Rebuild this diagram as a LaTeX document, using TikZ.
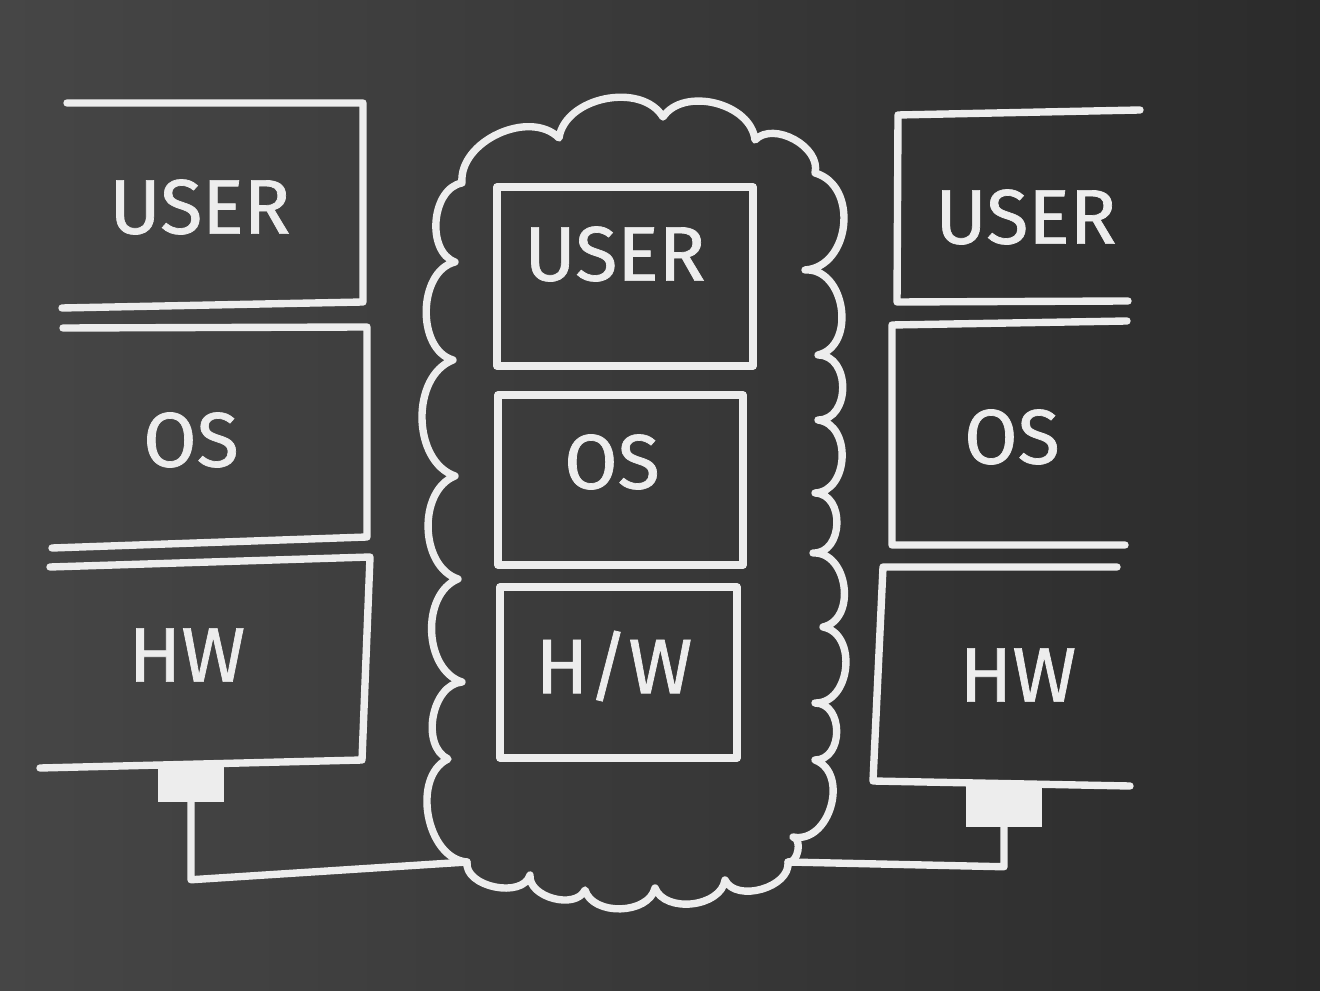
\documentclass[tikz,border=0pt]{standalone}
\usepackage{fontspec}
\setmainfont{Fira Sans}
\newfontfamily\chalkfont{Fira Sans}[FakeBold=0.9]
\usetikzlibrary{positioning}
\definecolor{boardleft}{HTML}{464646}
\definecolor{boardright}{HTML}{2B2B2B}
\definecolor{chalk}{HTML}{EDEDED}

\begin{document}
\begin{tikzpicture}[
      chalkline/.style={draw=chalk, line width=2.1pt, line cap=round,
                        line join=round},
      lbl/.style={text=chalk, font=\chalkfont\fontsize{22}{24}\selectfont,
                  inner sep=0pt},
      vmbox/.style={chalkline, inner sep=0pt},
      plug/.style={fill=chalk, draw=chalk, line width=1pt, inner sep=0pt}]
    \shade[left color=boardleft, right color=boardright] (0,0) rectangle (13.2,9.9);
    % left machine
    \draw[chalkline] (0.67,8.87) -- (3.63,8.87) -- (3.63,6.88) -- (0.62,6.82);
    \draw[chalkline] (0.63,6.62) -- (3.67,6.63) -- (3.67,4.53) -- (0.52,4.42);
    \draw[chalkline] (0.50,4.23) -- (3.70,4.33) -- (3.62,2.30) -- (0.40,2.22);
    \node[lbl] (lUser) at (2.00,7.83) {USER};
    \node[lbl] (lOs)   at (1.91,5.50) {OS};
    \node[lbl] (lHw)   at (1.87,3.35) {HW};
    \node[plug, minimum width=0.62cm, minimum height=0.36cm] (lplug) at (1.91,2.08) {};
    % right machine
    \draw[chalkline] (11.40,8.80) -- (8.98,8.75) -- (8.97,6.88) -- (11.28,6.89);
    \draw[chalkline] (11.27,6.69) -- (8.92,6.65) -- (8.92,4.45) -- (11.25,4.45);
    \draw[chalkline] (11.17,4.23) -- (8.83,4.23) -- (8.73,2.09) -- (11.30,2.04);
    \node[lbl] (rUser) at (10.26,7.73) {USER};
    \node[lbl] (rOs)   at (10.12,5.53) {OS};
    \node[lbl] (rHw)   at (10.18,3.15) {HW};
    \node[plug, minimum width=0.72cm, minimum height=0.42cm] (rplug) at (10.04,1.86) {};
    % virtual machine in the cloud
    \node[vmbox, minimum width=2.56cm, minimum height=1.79cm] (mUserBox) at (6.25,7.135) {};
    \node[vmbox, minimum width=2.45cm, minimum height=1.70cm] (mOsBox)   at (6.205,5.10) {};
    \node[vmbox, minimum width=2.37cm, minimum height=1.71cm] (mHwBox)   at (6.185,3.175) {};
    \node[lbl] (mUser) at (6.15,7.36) {USER};
    \node[lbl] (mOs)   at (6.12,5.28) {OS};
    \node[lbl] (mHw)   at (6.14,3.24) {H/W};
    \coordinate (cloudL) at (4.67,1.28);
    \coordinate (cloudR) at (7.88,1.28);
    \draw[chalkline] (4.62,8.07) to[bend right=75] (4.55,7.28)
      to[bend right=75] (4.53,6.30) to[bend right=70] (4.55,5.14)
      to[bend right=70] (4.58,4.11) to[bend right=70] (4.62,3.08)
      to[bend right=75] (4.48,2.31) to[bend right=75] (cloudL)
      to[bend right=85] (5.30,1.15) to[bend right=80] (5.85,1.00)
      to[bend right=75] (6.55,1.02) to[bend right=75] (7.25,1.10)
      to[bend right=80] (cloudR) to[bend right=90] (7.93,1.53)
      to[bend right=85, looseness=1.2] (8.15,2.30)
      to[bend right=90, looseness=1.3] (8.15,2.87)
      to[bend right=85, looseness=1.2] (8.23,3.63)
      to[bend right=85, looseness=1.2] (8.13,4.37)
      to[bend right=90, looseness=1.3] (8.15,4.97)
      to[bend right=85, looseness=1.2] (8.18,5.70)
      to[bend right=90, looseness=1.3] (8.18,6.35)
      to[bend right=85, looseness=1.2] (8.05,7.20)
      to[bend right=80, looseness=1.2] (8.15,8.17)
      to[bend right=75] (7.55,8.50)
      to[bend right=70] (6.63,8.73) to[bend right=70] (5.59,8.52)
      to[bend right=70] (4.62,8.07);
    % network links
    \coordinate[below=0.78cm of lplug] (lbend);
    \coordinate[below=0.40cm of rplug] (rbend);
    \draw[chalkline] (lplug) -- (lbend) -- (cloudL);
    \draw[chalkline] (rplug) -- (rbend) -- (cloudR);
\end{tikzpicture}
\end{document}
